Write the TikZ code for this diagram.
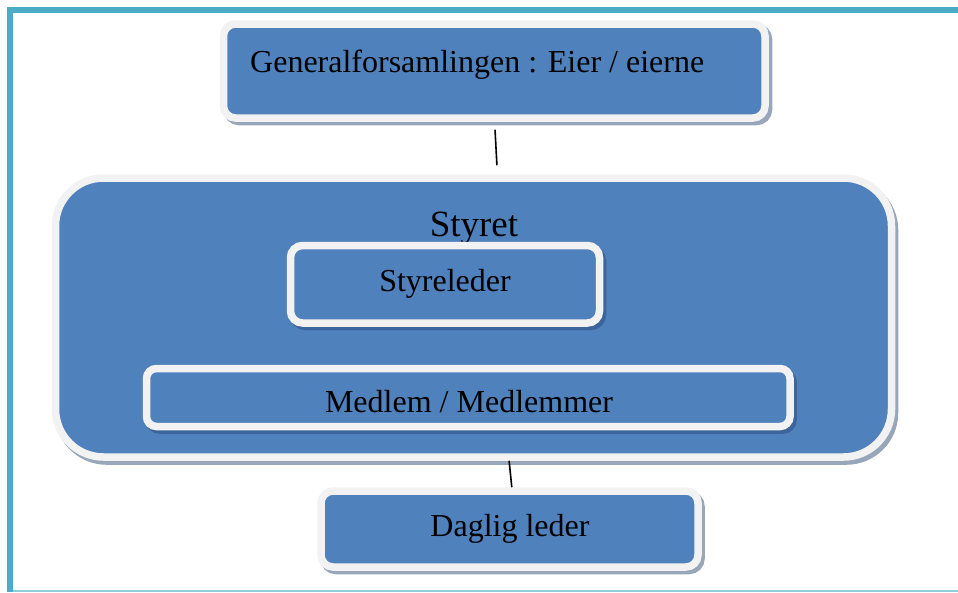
\documentclass[tikz,border=0pt]{standalone}
\usepackage{fontspec}
\setmainfont{Liberation Serif}
\definecolor{frameteal}{HTML}{4BACC6}
\definecolor{framelight}{HTML}{92CDDC}
\definecolor{boxblue}{HTML}{4F81BD}
\definecolor{rimwhite}{HTML}{F2F2F2}
\definecolor{outershadow}{HTML}{97A6B9}
\definecolor{innershadow}{HTML}{3D659B}
\begin{document}
\begin{tikzpicture}[x=1pt,y=-1pt,
  box/.style={fill=boxblue, draw=rimwhite, line width=7.5pt, inner sep=0pt, rounded corners=#1},
  box/.default=12pt,
  lbl/.style={anchor=base, font=\fontsize{32}{38}\selectfont, inner sep=0pt},
  conn/.style={draw=black, line width=1.6pt},
  oshadow/.style={fill=outershadow, draw=outershadow, line width=7.5pt},
  ishadow/.style={fill=innershadow, draw=innershadow, line width=7.5pt}]
\useasboundingbox (0,0) rectangle (958,592);
% frame
\fill[frameteal] (7,6.5) rectangle (958,12.5);
\fill[frameteal] (7,6.5) rectangle (13,592);
\fill[framelight] (13,590) rectangle (958,591.5);
% top box
\draw[oshadow, rounded corners=12pt] (227,27.5) rectangle (768.5,121.5);
\node[box=12pt, minimum width=541.5pt, minimum height=94pt] (gen) at (494.25,71) {};
\node[lbl, anchor=base west] (gentext) at (250,72) {Generalforsamlingen : Eier / eierne};
% Styret
\draw[oshadow, rounded corners=48pt] (58.5,182) rectangle (894.5,461);
\node[box=48pt, minimum width=836pt, minimum height=279pt] (styret) at (473.5,317.5) {};
\node[lbl, font=\fontsize{37}{44}\selectfont] (styrettext) at (474,236) {Styret};
% Styreleder
\draw[ishadow, rounded corners=12pt] (293.5,249) rectangle (602.5,326.5);
\node[box=12pt, minimum width=309pt, minimum height=77.5pt] (leder) at (445,284.25) {};
\node[lbl] (ledertext) at (445,291) {Styreleder};
% Medlem
\draw[ishadow, rounded corners=10pt] (149.5,372) rectangle (793,430);
\node[box=10pt, minimum width=643.5pt, minimum height=58pt] (medlem) at (468.25,397.5) {};
\node[lbl] (medlemtext) at (469,412) {Medlem / Medlemmer};
% Daglig leder
\draw[oshadow, rounded corners=12pt] (324,494.5) rectangle (701,570.5);
\node[box=12pt, minimum width=377pt, minimum height=76pt] (daglig) at (509.5,529) {};
\node[lbl] (dagligtext) at (510,536) {Daglig leder};
% connectors
\draw[conn, shorten <=8pt, shorten >=9pt] ([xshift=0.35pt]gen.south) -- ([xshift=23.9pt]styret.north);
\draw[conn] ([xshift=35.6pt]styret.south) -- ([xshift=2.3pt]daglig.north);
\end{tikzpicture}
\end{document}
